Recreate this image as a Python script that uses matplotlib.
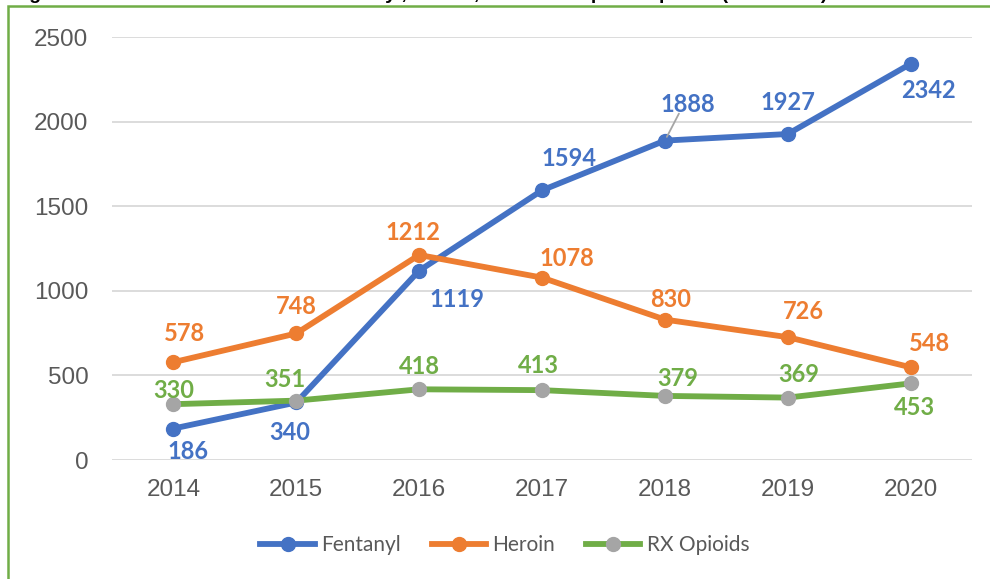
import matplotlib.pyplot as plt
from matplotlib.lines import Line2D
import matplotlib.patches as mpatches

plt.rcParams['font.family'] = ['Liberation Sans', 'DejaVu Sans']

YEARS = ['2014', '2015', '2016', '2017', '2018', '2019', '2020']
FENTANYL = [186, 340, 1119, 1594, 1888, 1927, 2342]
HEROIN = [578, 748, 1212, 1078, 830, 726, 548]
RX_OPIOIDS = [330, 351, 418, 413, 379, 369, 453]

NAMES = ['Fentanyl', 'Heroin', 'RX Opioids']
LINE_COLORS = ['#4472C4', '#ED7D31', '#70AD47']
MARKER_COLORS = ['#4472C4', '#ED7D31', '#A5A5A5']
LABEL_COLORS = ['#4472C4', '#ED7D31', '#70AD47']
# label offsets in pixels, per series
OFFSETS = [
    [(15, -23), (-6, -30), (38, -29), (27, 32), (23, 36), (0, 31), (18, -27)],
    [(11, 29), (0, 27), (-6, 22), (25, 19), (6, 20), (16, 26), (19, 24)],
    [(0, 14), (-11, 21), (0, 23), (-4, 25), (13, 17), (11, 23), (4, -24)],
]

fig = plt.figure(figsize=(9.9, 5.79), dpi=100)
ax = fig.add_axes([0.113, 0.2055, 0.869, 0.7305])

x = range(len(YEARS))
for i, series in enumerate([FENTANYL, HEROIN, RX_OPIOIDS]):
    ax.plot(x, series, color=LINE_COLORS[i], lw=4.2, marker='o', ms=10,
            mfc=MARKER_COLORS[i], mec=MARKER_COLORS[i], zorder=3 + i * 0.1,
            solid_capstyle='round')
    for j, v in enumerate(series):
        dx, dy = OFFSETS[i][j]
        ax.annotate(str(v), (j, v), xytext=(dx, dy), textcoords='offset pixels',
                    ha='center', va='center', fontsize=17, fontweight='bold',
                    family='Lato', color=LABEL_COLORS[i], zorder=5)

# leader line for 1888
ax.annotate('', (4, 1888), xytext=(14, 27), textcoords='offset pixels',
            arrowprops=dict(arrowstyle='-', color='#A5A5A5', lw=1.3,
                            shrinkA=0, shrinkB=3))

ax.set_xlim(-0.5, 6.5)
ax.set_ylim(0, 2500)
ax.set_yticks(range(0, 2501, 500))
ax.set_xticks(list(x))
ax.set_xticklabels(YEARS)
ax.grid(axis='y', color='#D9D9D9', lw=1.3)
ax.set_axisbelow(True)
for s in ax.spines.values():
    s.set_visible(False)
ax.tick_params(length=0, labelsize=17.5, labelcolor='#595959')
ax.tick_params(axis='y', pad=17)
ax.tick_params(axis='x', pad=14)

handles = [Line2D([0], [0], color=LINE_COLORS[i], lw=4.2, marker='o', ms=10,
                  mfc=MARKER_COLORS[i], mec=MARKER_COLORS[i]) for i in range(3)]
leg = fig.legend(handles, NAMES, loc='center', bbox_to_anchor=(0.51, 0.059),
                 ncol=3, frameon=False, prop={'family': 'Lato', 'size': 15},
                 handlelength=2.6, handletextpad=0.3, columnspacing=1.5)
for t in leg.get_texts():
    t.set_color('#595959')

# chart border (green) and cut-off caption above it
fig.patches.append(mpatches.Rectangle((8 / 990, -0.1), 1.1, 1.1 - 6 / 579,
                                      transform=fig.transFigure, fill=False,
                                      edgecolor='#70AD47', lw=1.8))
fig.text(0.012, 1 + 1 / 579, 'Figure 1. Total Overdose Deaths: Fentanyl, Heroin, and Prescription Opioids (2014-2020)',
         fontsize=14, fontweight='bold', va='baseline', ha='left')

fig.savefig('out.png', dpi=100)
